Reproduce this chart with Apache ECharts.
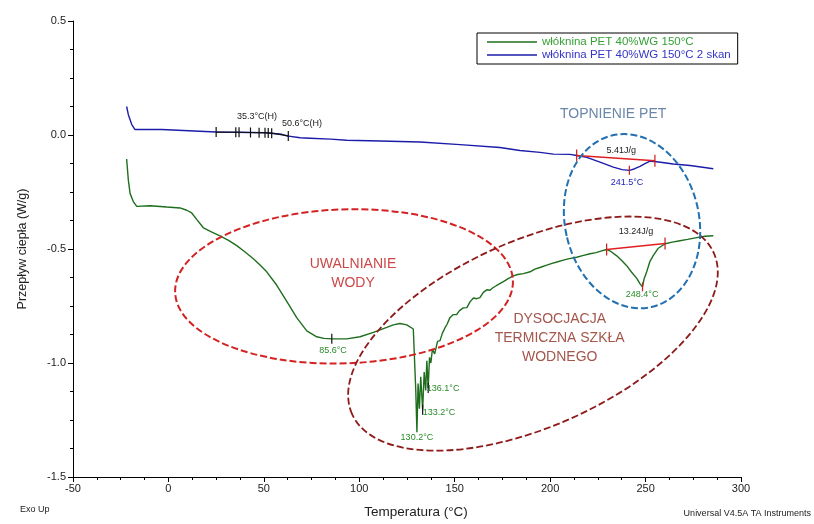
<!DOCTYPE html>
<html>
<head>
<meta charset="utf-8">
<script src="https://cdn.jsdelivr.net/npm/echarts/dist/echarts.min.js"></script>
<style>
  html, body { margin: 0; padding: 0; background: #ffffff; }
  #chart { width: 814px; height: 524px; }
</style>
</head>
<body>
<div id="chart"></div>
<script>
// DSC run: first heating of the nonwoven PET/water-glass sample (°C, W/g)
const scan1Temp = [-21.9, -21.0, -20.1, -18.4, -16.6, -9.6, -0.9, 6.1, 9.6, 12.2, 14.8, 18.3, 22.5, 27.0, 31.5, 35.8,
  40.0, 44.5, 48.0, 51.5, 56.7, 62.0, 67.2, 72.5, 77.7, 81.5, 85.6, 93.4, 100.4, 107.4, 114.4, 117.8, 121.3, 124.9,
  128.3, 129.0, 129.6, 130.2, 130.8, 131.5, 132.2, 133.2, 134.0, 134.8, 135.4, 136.1, 136.8, 137.5, 138.3, 139.5,
  141.0, 142.3, 143.5, 145.0, 146.0, 147.5, 149.1, 151.1, 152.5, 154.5, 156.4, 158.0, 159.8, 161.5, 163.2, 165.0,
  166.8, 168.5, 170.0, 172.0, 175.5, 178.0, 180.7, 183.0, 186.0, 189.5, 192.0, 195.0, 198.2, 201.0, 204.0, 206.9,
  210.0, 213.9, 217.0, 220.9, 224.0, 227.0, 229.6, 232.0, 234.9, 237.5, 240.1, 242.7, 245.4, 247.1, 248.4, 249.2,
  250.6, 252.3, 254.1, 256.5, 260.2, 264.0, 268.0, 272.0, 276.8, 281.1, 285.5];
const scan1Flow = [-0.105, -0.198, -0.256, -0.292, -0.313, -0.310, -0.316, -0.320, -0.330, -0.342, -0.370, -0.407,
  -0.425, -0.442, -0.462, -0.485, -0.512, -0.543, -0.570, -0.600, -0.658, -0.730, -0.801, -0.859, -0.885, -0.892,
  -0.894, -0.894, -0.885, -0.866, -0.844, -0.833, -0.827, -0.833, -0.851, -0.858, -1.120, -1.304, -1.090, -1.200,
  -1.060, -1.205, -1.040, -1.120, -0.990, -1.110, -0.975, -1.000, -0.940, -0.960, -0.905, -0.902, -0.870, -0.844,
  -0.830, -0.801, -0.788, -0.787, -0.770, -0.758, -0.757, -0.732, -0.715, -0.718, -0.713, -0.690, -0.679, -0.681,
  -0.670, -0.660, -0.643, -0.630, -0.618, -0.612, -0.608, -0.600, -0.588, -0.580, -0.571, -0.563, -0.556, -0.549,
  -0.542, -0.536, -0.529, -0.521, -0.516, -0.508, -0.502, -0.512, -0.530, -0.550, -0.573, -0.602, -0.629, -0.653,
  -0.666, -0.632, -0.600, -0.554, -0.528, -0.498, -0.477, -0.470, -0.464, -0.458, -0.450, -0.444, -0.442];

// Second heating scan of the same sample
const scan2Temp = [-21.9, -21.0, -19.2, -17.5, -11.4, -3.5, -2.7, 7.8, 8.7, 25.0, 35.3, 43.0, 50.6, 59.4, 62.0, 69.0,
  74.2, 85.0, 93.4, 110.9, 131.8, 152.8, 173.7, 184.2, 194.7, 201.7, 210.4, 213.9, 219.2, 226.1, 233.1, 237.7, 241.5,
  244.0, 247.1, 249.7, 252.3, 254.9, 264.5, 273.3, 285.5];
const scan2Flow = [0.125, 0.089, 0.046, 0.024, 0.024, 0.024, 0.020, 0.020, 0.013, 0.013, 0.012, 0.011, 0.010, 0.003,
  -0.004, -0.012, -0.014, -0.018, -0.023, -0.026, -0.031, -0.042, -0.055, -0.068, -0.076, -0.084, -0.085, -0.090,
  -0.098, -0.119, -0.141, -0.152, -0.155, -0.149, -0.138, -0.126, -0.115, -0.116, -0.127, -0.134, -0.148];

// Glass transition analysis marks on the second scan
const glassTickTemp = [25.0, 35.3, 37.0, 43.0, 47.5, 50.6, 52.3, 54.1, 62.8];
const glassTickFlow = [0.013, 0.012, 0.012, 0.011, 0.010, 0.010, 0.009, 0.008, -0.004];

// Point marks on the first scan (black)
const pointTickTemp = [85.6, 133.2, 136.1];
const pointTickFlow = [-0.894, -1.205, -1.110];

// Melting peak integration: baseline ends and peak positions
const meltBase2Temp = [213.9, 254.9];
const meltBase2Flow = [-0.090, -0.113];
const meltBase1Temp = [229.6, 260.2];
const meltBase1Flow = [-0.502, -0.476];
const peakTemp = [241.5, 248.4];
const peakFlow = [-0.155, -0.666];

// Axis ticks
const xTicks = [-50, 0, 50, 100, 150, 200, 250, 300];
const yTicks = [-1.5, -1.0, -0.5, 0.0, 0.5];

const seriesNames = ['włóknina PET 40%WG 150°C', 'włóknina PET 40%WG 150°C 2 skan'];

const zip = (a, b) => a.map((v, i) => [v, b[i]]);
const FONT = 'Liberation Sans, Arial, sans-serif';

// Value labels placed in data space
const valueLabels = [
  { text: '35.3°C(H)', at: [46.4, 0.083], color: '#222222' },
  { text: '50.6°C(H)', at: [70.0, 0.049], color: '#222222' },
  { text: '5.41J/g', at: [237.2, -0.068], color: '#222222' },
  { text: '241.5°C', at: [240.3, -0.210], color: '#2424b4' },
  { text: '13.24J/g', at: [245.0, -0.425], color: '#222222' },
  { text: '248.4°C', at: [248.2, -0.701], color: '#2a8a2a' },
  { text: '85.6°C', at: [86.2, -0.946], color: '#2a8a2a' },
  { text: '136.1°C', at: [143.9, -1.114], color: '#2a8a2a' },
  { text: '133.2°C', at: [141.8, -1.217], color: '#2a8a2a' },
  { text: '130.2°C', at: [130.2, -1.325], color: '#2a8a2a' }
];

// Region captions (centre in data space)
const captions = [
  { text: 'TOPNIENIE PET', at: [233.0, 0.092], color: '#6a86a8' },
  { text: 'UWALNIANIE\nWODY', at: [96.7, -0.608], color: '#cc4848' },
  { text: 'DYSOCJACJA\nTERMICZNA SZKŁA\nWODNEGO', at: [205.0, -0.890], color: '#a4564c' }
];

// Dashed outlines around the regions: centre in data space, radii in px, tilt in degrees
const outlines = [
  { at: [92.0, -0.664], rx: 169, ry: 77, tilt: 2, color: '#d42222', width: 2 },
  { at: [191.0, -0.871], rx: 198, ry: 93, tilt: 24, color: '#8e1a1a', width: 1.8 },
  { at: [242.9, -0.378], rx: 67, ry: 88, tilt: 12.7, color: '#2270b2', width: 2 }
];

function tickRenderer(half, color) {
  return function (params, api) {
    const p = api.coord([api.value(0), api.value(1)]);
    return {
      type: 'line',
      shape: { x1: p[0], y1: p[1] - half, x2: p[0], y2: p[1] + half },
      style: { stroke: color, lineWidth: 1.2 }
    };
  };
}

const chart = echarts.init(document.getElementById('chart'), null, { renderer: 'canvas' });

const option = {
  animation: false,
  backgroundColor: '#ffffff',
  grid: { left: 73, right: 73, top: 21, bottom: 39, containLabel: false },
  legend: {
    left: 477, top: 33, orient: 'vertical',
    icon: 'rect', itemWidth: 50, itemHeight: 1.5, itemGap: 1,
    padding: [3, 7, 3, 10],
    borderColor: '#000000', borderWidth: 1, backgroundColor: '#ffffff',
    textStyle: { fontFamily: FONT, fontSize: 11.5 },
    data: [
      { name: seriesNames[0], textStyle: { color: '#36a036' } },
      { name: seriesNames[1], textStyle: { color: '#3434c8' } }
    ]
  },
  xAxis: {
    type: 'value', min: xTicks[0], max: xTicks[xTicks.length - 1], interval: 50,
    name: 'Temperatura (°C)', nameLocation: 'middle', nameGap: 28,
    nameTextStyle: { fontFamily: FONT, fontSize: 13.5, color: '#222', padding: [0, 0, 0, 18] },
    axisLine: { onZero: false, lineStyle: { color: '#000', width: 1 } },
    axisTick: { show: true, inside: false, length: 5, lineStyle: { color: '#000' } },
    minorTick: { show: true, splitNumber: 4, length: 3, lineStyle: { color: '#000' } },
    splitLine: { show: false },
    axisLabel: { fontFamily: FONT, fontSize: 11, color: '#222', margin: 6 }
  },
  yAxis: {
    type: 'value', min: yTicks[0], max: yTicks[yTicks.length - 1], interval: 0.5,
    name: 'Przepływ ciepła (W/g)', nameLocation: 'middle', nameGap: 44,
    nameTextStyle: { fontFamily: FONT, fontSize: 12.5, color: '#222' },
    axisLine: { show: true, onZero: false, lineStyle: { color: '#000', width: 1 } },
    axisTick: { show: true, inside: false, length: 5, lineStyle: { color: '#000' } },
    minorTick: { show: true, splitNumber: 4, length: 3, lineStyle: { color: '#000' } },
    splitLine: { show: false },
    axisLabel: { fontFamily: FONT, fontSize: 11, color: '#222', margin: 7, formatter: v => v.toFixed(1) }
  },
  series: [
    {
      name: seriesNames[0], type: 'line', data: zip(scan1Temp, scan1Flow),
      showSymbol: false, symbol: 'none', color: '#1e6e1e',
      lineStyle: { width: 1.4, color: '#1e6e1e' }, z: 3
    },
    {
      name: seriesNames[1], type: 'line', data: zip(scan2Temp, scan2Flow),
      showSymbol: false, symbol: 'none', color: '#1c1caa',
      lineStyle: { width: 1.4, color: '#1c1caa' }, z: 3
    },
    {
      name: 'tangent', type: 'line', data: zip(glassTickTemp, glassTickFlow),
      showSymbol: false, symbol: 'none', lineStyle: { width: 1.2, color: '#111' }, z: 4
    },
    {
      name: 'glass ticks', type: 'custom', data: zip(glassTickTemp, glassTickFlow),
      renderItem: tickRenderer(5, '#111'), z: 5
    },
    {
      name: 'point ticks', type: 'custom', data: zip(pointTickTemp, pointTickFlow),
      renderItem: tickRenderer(5, '#111'), z: 5
    },
    {
      name: 'baseline 2', type: 'line', data: zip(meltBase2Temp, meltBase2Flow),
      showSymbol: false, symbol: 'none', lineStyle: { width: 1.5, color: '#e02020' }, z: 4
    },
    {
      name: 'baseline 1', type: 'line', data: zip(meltBase1Temp, meltBase1Flow),
      showSymbol: false, symbol: 'none', lineStyle: { width: 1.5, color: '#e02020' }, z: 4
    },
    {
      name: 'baseline ticks', type: 'custom',
      data: zip(meltBase2Temp.concat(meltBase1Temp), meltBase2Flow.concat(meltBase1Flow)),
      renderItem: tickRenderer(6, '#cc1a1a'), z: 5
    },
    {
      name: 'peak ticks', type: 'custom', data: zip(peakTemp, peakFlow),
      renderItem: tickRenderer(4.5, '#cc1a1a'), z: 5
    }
  ]
};

chart.setOption(option);

// Overlay: outlines, captions, value labels and footer texts
const toPx = pt => chart.convertToPixel({ gridIndex: 0 }, pt);
const graphics = [];

outlines.forEach(o => {
  const c = toPx(o.at);
  graphics.push({
    type: 'ellipse', x: c[0], y: c[1], rotation: o.tilt * Math.PI / 180, silent: true, z: 20,
    shape: { cx: 0, cy: 0, rx: o.rx, ry: o.ry },
    style: { fill: 'none', stroke: o.color, lineWidth: o.width, lineDash: [7, 3] }
  });
});

captions.forEach(c => {
  const p = toPx(c.at);
  graphics.push({
    type: 'text', x: p[0], y: p[1], silent: true, z: 21,
    style: {
      text: c.text, fill: c.color, font: '14px ' + FONT, lineHeight: 19,
      textAlign: 'center', textVerticalAlign: 'middle', align: 'center', verticalAlign: 'middle'
    }
  });
});

valueLabels.forEach(l => {
  const p = toPx(l.at);
  graphics.push({
    type: 'text', x: p[0], y: p[1], silent: true, z: 21,
    style: {
      text: l.text, fill: l.color, font: '9px ' + FONT,
      textAlign: 'center', textVerticalAlign: 'middle', align: 'center', verticalAlign: 'middle'
    }
  });
});

graphics.push({
  type: 'text', left: 20, top: 505, silent: true,
  style: { text: 'Exo Up', fill: '#222', font: '9px ' + FONT }
});
graphics.push({
  type: 'text', right: 3, top: 509, silent: true,
  style: { text: 'Universal V4.5A TA Instruments', fill: '#222', font: '9px ' + FONT }
});

chart.setOption({ graphic: graphics });
</script>
</body>
</html>
